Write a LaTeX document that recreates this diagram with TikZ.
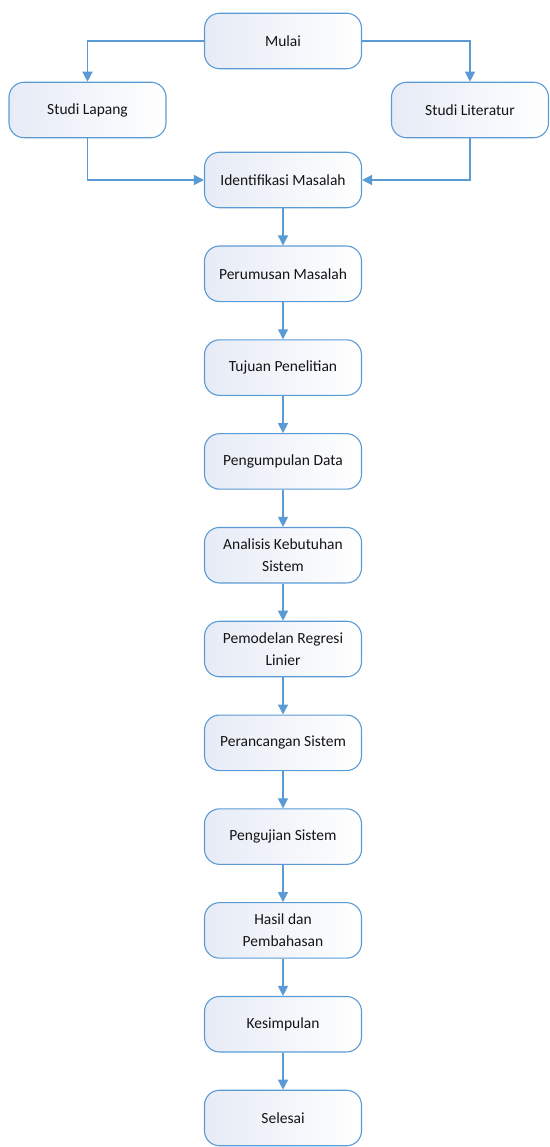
\documentclass[tikz,border=0pt]{standalone}
\usepackage{fontspec}
\setmainfont{Carlito}
\usetikzlibrary{positioning,arrows.meta}
\definecolor{flowblue}{RGB}{91,155,213}
\definecolor{boxfill}{RGB}{230,235,246}
\definecolor{flowtext}{RGB}{20,20,20}
\tikzset{
  box/.style={draw=flowblue, line width=1.1pt, rounded corners=15pt,
    left color=boxfill, right color=white,
    minimum width=157pt, minimum height=55.5pt, align=center,
    text=flowtext, font=\fontsize{15.5}{21.5}\selectfont},
  arr/.style={draw=flowblue, line width=1.3pt,
    -{Triangle[length=10pt,width=10pt]}}
}
\begin{document}
\begin{tikzpicture}[node distance=37.2pt]
    \useasboundingbox (0,0) rectangle (549pt,-1147pt);
    % start and the two studies
    \node[box] (mulai) at (283pt,-41pt) {Mulai};
    \node[box] (lapang) at (87.5pt,-110pt) {Studi Lapang};
    \node[box] (literatur) at (470pt,-110pt) {Studi Literatur};
    % main column
    \node[box] (identifikasi) at (283pt,-180pt) {Identifikasi Masalah};
    \node[box, below=of identifikasi] (perumusan) {Perumusan Masalah};
    \node[box, below=of perumusan] (tujuan) {Tujuan Penelitian};
    \node[box, below=of tujuan] (pengumpulan) {Pengumpulan Data};
    \node[box, below=of pengumpulan] (analisis) {Analisis Kebutuhan\\Sistem};
    \node[box, below=of analisis] (pemodelan) {Pemodelan Regresi\\Linier};
    \node[box, below=of pemodelan] (perancangan) {Perancangan Sistem};
    \node[box, below=of perancangan] (pengujian) {Pengujian Sistem};
    \node[box, below=of pengujian] (hasil) {Hasil dan\\Pembahasan};
    \node[box, below=of hasil] (kesimpulan) {Kesimpulan};
    \node[box, below=of kesimpulan] (selesai) {Selesai};
    % connectors
    \draw[arr] (mulai.west) -| (lapang.north);
    \draw[arr] (mulai.east) -| (literatur.north);
    \draw[arr] (lapang.south) |- (identifikasi.west);
    \draw[arr] (literatur.south) |- (identifikasi.east);
    \draw[arr] (identifikasi) -- (perumusan);
    \draw[arr] (perumusan) -- (tujuan);
    \draw[arr] (tujuan) -- (pengumpulan);
    \draw[arr] (pengumpulan) -- (analisis);
    \draw[arr] (analisis) -- (pemodelan);
    \draw[arr] (pemodelan) -- (perancangan);
    \draw[arr] (perancangan) -- (pengujian);
    \draw[arr] (pengujian) -- (hasil);
    \draw[arr] (hasil) -- (kesimpulan);
    \draw[arr] (kesimpulan) -- (selesai);
  \end{tikzpicture}
\end{document}
